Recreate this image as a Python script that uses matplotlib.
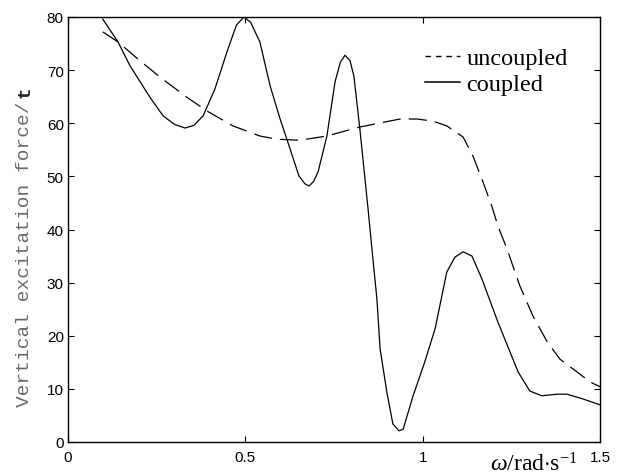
import matplotlib
matplotlib.use("Agg")
import matplotlib.pyplot as plt
from matplotlib.lines import Line2D
import numpy as np

plt.rcParams['mathtext.fontset'] = 'custom'
plt.rcParams['mathtext.rm'] = 'Liberation Serif'
plt.rcParams['mathtext.it'] = 'Liberation Serif:italic'

# Coupled (solid)
w_coupled = [0.098, 0.141, 0.175, 0.231, 0.268, 0.300, 0.330, 0.355, 0.381, 0.414, 0.448, 0.475, 0.496,
             0.515, 0.541, 0.570, 0.598, 0.626, 0.651, 0.668, 0.680, 0.692, 0.705, 0.730, 0.753, 0.768,
             0.781, 0.795, 0.806, 0.823, 0.846, 0.857, 0.871, 0.880, 0.899, 0.916, 0.933, 0.945, 0.973,
             1.006, 1.035, 1.068, 1.091, 1.114, 1.139, 1.167, 1.212, 1.269, 1.302, 1.336, 1.379, 1.407,
             1.452, 1.5]
f_coupled = [79.6, 75.3, 70.8, 64.9, 61.4, 59.8, 59.1, 59.6, 61.4, 66.4, 73.4, 78.5, 80.0,
             79.0, 75.3, 67.0, 60.8, 55.2, 50.1, 48.6, 48.2, 49.0, 50.8, 57.6, 67.8, 71.5,
             72.8, 71.8, 68.9, 58.9, 43.9, 36.3, 26.9, 17.5, 9.4, 3.4, 2.1, 2.4, 8.7,
             15.1, 21.3, 32.0, 34.8, 35.8, 35.0, 30.7, 22.6, 13.2, 9.6, 8.7, 9.0, 9.0,
             8.1, 7.0]

# Uncoupled (dashed)
w_uncoupled = [0.098, 0.141, 0.197, 0.259, 0.335, 0.392, 0.465, 0.541, 0.589, 0.654, 0.730, 0.823,
               0.936, 0.984, 1.029, 1.068, 1.114, 1.142, 1.167, 1.195, 1.212, 1.238, 1.274, 1.311,
               1.350, 1.387, 1.435, 1.472, 1.5]
f_uncoupled = [77.2, 75.3, 72.1, 68.7, 64.9, 62.3, 59.5, 57.6, 57.0, 56.8, 57.6, 59.3,
               60.8, 60.8, 60.4, 59.5, 57.4, 53.8, 49.5, 44.4, 40.7, 36.3, 29.4, 23.7,
               19.0, 15.6, 13.2, 11.3, 10.4]

series_labels = ['uncoupled', 'coupled']
xticks = [0, 0.5, 1, 1.5]
xticklabels = ['0', '0.5', '1', '1.5']
yticks = [0, 10, 20, 30, 40, 50, 60, 70, 80]

fig = plt.figure(figsize=(6.2, 4.77), dpi=100)
ax = fig.add_axes([68/620, 1-443/477, (600-68)/620, (443-18)/477])

ln_u, = ax.plot(w_uncoupled, f_uncoupled, color='black', lw=0.9, label=series_labels[0])
ln_u.set_dashes([14.5, 6.5])
ln_c, = ax.plot(w_coupled, f_coupled, color='black', lw=0.9, label=series_labels[1])

ax.set_xlim(0, 1.5)
ax.set_ylim(0, 80)
ax.set_xticks(xticks)
ax.set_xticklabels(xticklabels)
ax.set_yticks(yticks)
ax.tick_params(direction='in', length=4.5, width=0.8, top=True, right=True,
               labelsize=11, labelfontfamily='Liberation Sans')
ax.tick_params(axis='x', pad=6)
ax.tick_params(axis='y', pad=3)
for s in ax.spines.values():
    s.set_linewidth(1.0)

h_u = Line2D([], [], color='black', lw=1.0, dashes=[4, 3.5])
h_c = Line2D([], [], color='black', lw=1.1)
leg = ax.legend(handles=[h_u, h_c], labels=series_labels, loc='upper right',
                bbox_to_anchor=(0.98, 0.98),
                frameon=False, prop={'family': 'Liberation Serif', 'size': 17.5},
                handlelength=1.45, handletextpad=0.25, labelspacing=0.15)

fig.text(25/620, 1-407/477, 'Vertical excitation force/', rotation=90, ha='center', va='bottom',
         family='Liberation Mono', fontsize=14, color='#6a6a6a')
fig.text(25/620, 1-98/477, 't', rotation=90, ha='center', va='bottom',
         family='Liberation Mono', fontsize=14, fontweight='bold', color='#222222')

fig.text(490/620, 1-472/477, r'$\omega$/rad$\cdot$s$^{-1}$', ha='left', va='baseline',
         family='Liberation Serif', fontsize=17)

fig.savefig('out.png', dpi=100)
